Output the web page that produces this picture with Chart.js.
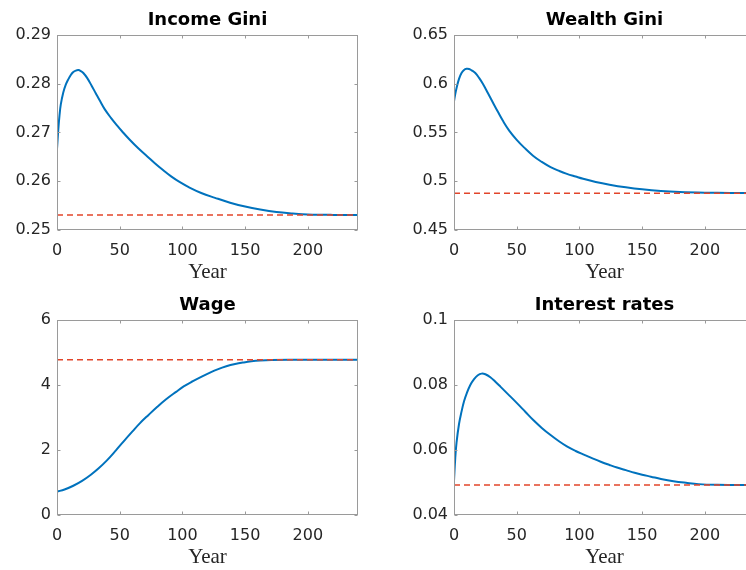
<!DOCTYPE html>
<html><head><meta charset="utf-8">
<script src="https://cdn.jsdelivr.net/npm/chart.js@4.4.0/dist/chart.umd.min.js"></script>
<style>
html,body{margin:0;padding:0;background:#fff;width:746px;height:570px;overflow:hidden;position:relative}
canvas{position:absolute}
</style></head><body>
<canvas id="c1"></canvas><canvas id="c2"></canvas><canvas id="c3"></canvas><canvas id="c4"></canvas>
<script>
// ---- shared x axis ----
const xTickValues = [0, 50, 100, 150, 200];
const xTickLabels = ['0', '50', '100', '150', '200'];
const xMin = 0, xMax = 240;
const xTitle = 'Year';

// ---- Income Gini ----
const incomeTitle = 'Income Gini';
const incomeYears  = [0, 1, 2, 3, 5, 7, 9, 11, 13, 15, 17, 19, 21, 24, 27.6, 31, 34, 38, 43, 48, 52, 58, 65, 72, 78, 85, 91, 98, 105, 115, 126, 138, 150, 162, 175, 188, 200, 220, 240];
const incomeValues = [0.2666, 0.2705, 0.2735, 0.2757, 0.2782, 0.2798, 0.2809, 0.2818, 0.2824, 0.2827, 0.2828, 0.2826, 0.2822, 0.2812, 0.2796, 0.2780, 0.2766, 0.2748, 0.2730, 0.2714, 0.2702, 0.2685, 0.2667, 0.2651, 0.2637, 0.2622, 0.2610, 0.2598, 0.2588, 0.2576, 0.2566, 0.2556, 0.2548, 0.2542, 0.2537, 0.2534, 0.2532, 0.2531, 0.2531];
const incomeSteady = [0.2531, 0.2531];
const incomeYTicks = [0.25, 0.26, 0.27, 0.28, 0.29];
const incomeYLabels = ['0.25', '0.26', '0.27', '0.28', '0.29'];

// ---- Wealth Gini ----
const wealthTitle = 'Wealth Gini';
const wealthYears  = [0, 1, 2, 4, 6, 8, 10, 12, 14, 17, 20, 23, 27, 31, 35, 39, 44, 50, 56, 63, 70, 77, 84, 90, 97, 103, 113, 124, 137, 150, 165, 180, 200, 220, 240];
const wealthValues = [0.582, 0.5895, 0.5955, 0.6050, 0.6110, 0.6142, 0.6154, 0.6152, 0.6138, 0.6110, 0.6060, 0.6000, 0.5905, 0.5808, 0.5712, 0.5620, 0.5520, 0.5425, 0.5345, 0.5262, 0.5198, 0.5145, 0.5105, 0.5076, 0.5048, 0.5025, 0.4993, 0.4965, 0.4938, 0.4917, 0.4900, 0.4890, 0.4883, 0.4880, 0.4878];
const wealthSteady = [0.4878, 0.4878];
const wealthYTicks = [0.45, 0.5, 0.55, 0.6, 0.65];
const wealthYLabels = ['0.45', '0.5', '0.55', '0.6', '0.65'];

// ---- Wage ----
const wageTitle = 'Wage';
const wageYears  = [0, 6, 13, 20, 27, 33, 40, 47, 53, 60, 66, 73, 80, 87, 95, 101, 108, 115, 122, 128, 135, 142, 149, 155, 162, 171, 185, 240];
const wageValues = [0.72, 0.785, 0.90, 1.05, 1.24, 1.43, 1.69, 1.99, 2.26, 2.565, 2.82, 3.08, 3.33, 3.56, 3.79, 3.955, 4.11, 4.25, 4.38, 4.48, 4.575, 4.645, 4.695, 4.728, 4.752, 4.768, 4.775, 4.775];
const wageSteady = [4.775, 4.775];
const wageYTicks = [0, 2, 4, 6];
const wageYLabels = ['0', '2', '4', '6'];

// ---- Interest rates ----
const rateTitle = 'Interest rates';
const rateYears  = [0, 1, 2, 4, 6, 8, 10, 13, 16, 19, 22, 25, 29, 33, 37, 43, 50, 57, 63, 70, 77, 84, 90, 97, 104, 110, 117, 124, 130, 137, 144, 150, 157, 165, 175, 185, 195, 210, 240];
const rateValues = [0.0505, 0.0575, 0.0622, 0.0680, 0.0718, 0.0750, 0.0773, 0.0800, 0.0818, 0.0830, 0.0835, 0.0833, 0.0824, 0.0810, 0.0795, 0.0772, 0.0745, 0.0717, 0.0693, 0.0668, 0.0646, 0.0626, 0.0611, 0.0597, 0.0585, 0.0575, 0.0564, 0.0554, 0.0546, 0.0538, 0.0530, 0.0524, 0.0518, 0.0511, 0.0504, 0.0499, 0.0495, 0.0493, 0.0492];
const rateSteady = [0.0492, 0.0492];
const rateYTicks = [0.04, 0.06, 0.08, 0.1];
const rateYLabels = ['0.04', '0.06', '0.08', '0.1'];

// ---- styling ----
const BLUE = '#0072BD';
const RED = '#e2452b';
const AXIS = '#9a9a9a';
const TEXT = '#262626';

const boxPlugin = {
  id: 'matlabBox',
  afterDatasetsDraw(chart) {
    const {ctx, chartArea: a, scales: {x, y}} = chart;
    ctx.save();
    ctx.strokeStyle = AXIS;
    ctx.lineWidth = 1;
    const l = Math.round(a.left) + 0.5, r = Math.round(a.right) - 0.5;
    const t = Math.round(a.top) + 0.5, b = Math.round(a.bottom) - 0.5;
    ctx.strokeRect(l, t, r - l, b - t);
    ctx.beginPath();
    x.ticks.forEach(tk => {
      const px = Math.round(x.getPixelForValue(tk.value)) + 0.5;
      ctx.moveTo(px, b); ctx.lineTo(px, b - 3);
      ctx.moveTo(px, t); ctx.lineTo(px, t + 3);
    });
    y.ticks.forEach(tk => {
      const py = Math.round(y.getPixelForValue(tk.value)) + 0.5;
      ctx.moveTo(l, py); ctx.lineTo(l + 3, py);
      ctx.moveTo(r, py); ctx.lineTo(r - 3, py);
    });
    ctx.stroke();
    ctx.restore();
  }
};

function makePanel(id, posLeft, posTop, axisW, title, years, values, steady, yTicks, yLabels) {
  const cv = document.getElementById(id);
  cv.width = axisW + 301 + 15;
  cv.height = 285;
  cv.style.left = posLeft + 'px';
  cv.style.top = posTop + 'px';
  new Chart(cv, {
    type: 'line',
    data: {
      datasets: [
        {data: [{x: xMin, y: steady[0]}, {x: xMax, y: steady[1]}], borderColor: RED, borderWidth: 1.5, borderDash: [6, 4], pointRadius: 0, tension: 0},
        {data: years.map((yr, i) => ({x: yr, y: values[i]})), borderColor: BLUE, borderWidth: 2, pointRadius: 0, tension: 0.4}
      ]
    },
    options: {
      responsive: false, animation: false, devicePixelRatio: 1,
      layout: {padding: {left: 0, right: 15, top: 0, bottom: 0}},
      plugins: {
        legend: {display: false}, tooltip: {enabled: false},
        title: {display: true, text: title, fullSize: false, color: '#000',
          font: {family: 'DejaVu Sans', size: 18, weight: 'bold', lineHeight: 1.2},
          padding: {top: 9.7, bottom: 3.7}}
      },
      scales: {
        x: {
          type: 'linear', min: xMin, max: xMax,
          afterBuildTicks: s => { s.ticks = xTickValues.map(v => ({value: v})); },
          afterFit: s => { s.height = 55; },
          ticks: {callback: (v, i) => xTickLabels[i], padding: 11, maxRotation: 0, autoSkip: false,
            font: {family: 'DejaVu Sans', size: 16}, color: TEXT},
          grid: {display: false, drawTicks: false}, border: {display: false},
          title: {display: true, text: xTitle, color: TEXT,
            font: {family: 'Liberation Serif', size: 21, lineHeight: 1.2}, padding: {top: 0, bottom: 0}}
        },
        y: {
          type: 'linear', min: yTicks[0], max: yTicks[yTicks.length - 1],
          afterBuildTicks: s => { s.ticks = yTicks.map(v => ({value: v})); },
          afterFit: s => { s.width = axisW; },
          ticks: {callback: (v, i) => yLabels[i], padding: 6, autoSkip: false,
            font: {family: 'DejaVu Sans', size: 16}, color: TEXT},
          grid: {display: false, drawTicks: false}, border: {display: false}
        }
      }
    },
    plugins: [boxPlugin]
  });
}

makePanel('c1', 0, 0, 57, incomeTitle, incomeYears, incomeValues, incomeSteady, incomeYTicks, incomeYLabels);
makePanel('c2', 373, 0, 81, wealthTitle, wealthYears, wealthValues, wealthSteady, wealthYTicks, wealthYLabels);
makePanel('c3', 0, 285, 57, wageTitle, wageYears, wageValues, wageSteady, wageYTicks, wageYLabels);
makePanel('c4', 373, 285, 81, rateTitle, rateYears, rateValues, rateSteady, rateYTicks, rateYLabels);
</script>
</body></html>
